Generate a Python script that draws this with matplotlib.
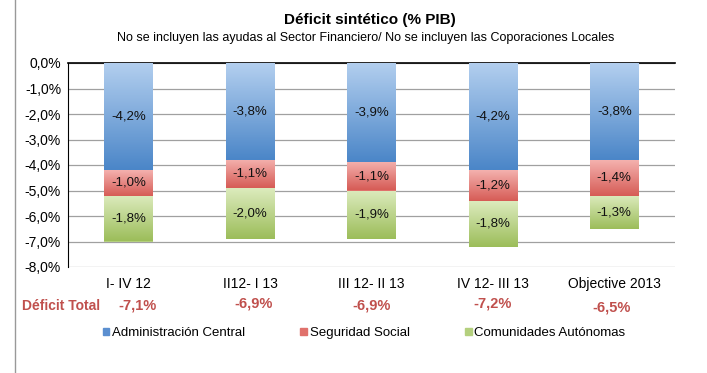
import matplotlib.pyplot as plt
import matplotlib.colors as mcolors
import matplotlib.transforms as mtransforms
from matplotlib.lines import Line2D
import numpy as np

plt.rcParams['font.family'] = ['Liberation Sans', 'DejaVu Sans']

periods = ['I- IV 12', 'II12- I 13', 'III 12- II 13', 'IV 12- III 13', 'Objective 2013']
admin_central = [-4.2, -3.8, -3.9, -4.2, -3.8]
seguridad_social = [-1.0, -1.1, -1.1, -1.2, -1.4]
comunidades = [-1.8, -2.0, -1.9, -1.8, -1.3]
deficit_total = [-7.1, -6.9, -6.9, -7.2, -6.5]
series_names = ['Administración Central', 'Seguridad Social', 'Comunidades Autónomas']

# (top colour, bottom colour) for the gradient fill
grads = [('#b3cfef', '#4b86c8'), ('#f4b1ae', '#d65c56'), ('#dcebbd', '#9cbd5a')]
legend_cols = ['#5b8fd0', '#e0716c', '#b4d07e']

fig = plt.figure(figsize=(7.07, 3.73), dpi=100)
ax = fig.add_axes([68 / 707, 1 - 267 / 373, 607 / 707, 204 / 373])

x = np.arange(len(periods))
bottom = np.zeros(len(periods))
for vals, (c_top, c_bot), name, lc in zip([admin_central, seguridad_social, comunidades],
                                        grads, series_names, legend_cols):
    vals = np.array(vals)
    bars = ax.bar(x, vals, 0.4, bottom=bottom, color=lc, label=name, zorder=3)
    cmap = mcolors.LinearSegmentedColormap.from_list('g', [c_top, c_bot])
    for b, v, b0 in zip(bars, vals, bottom):
        x0 = b.get_x()
        grad = np.linspace(0, 1, 100).reshape(-1, 1)
        im = ax.imshow(grad, cmap=cmap, aspect='auto', zorder=4,
                       extent=[x0, x0 + b.get_width(), b0 + v, b0])
        im.set_clip_path(b)
        ax.text(b.get_x() + b.get_width() / 2, b0 + v / 2,
                ('%.1f%%' % v).replace('.', ','), ha='center', va='center',
                fontsize=9.5, color='#111111', zorder=5)
    bottom = bottom + vals

ax.set_xlim(-0.5, len(periods) - 0.5)
ax.set_ylim(-8, 0)
ax.set_yticks(np.arange(-8, 0.5, 1))
ax.set_yticklabels([('%.1f%%' % v).replace('.', ',') if v != 0 else '0,0%'
                    for v in np.arange(-8, 0.5, 1)], fontsize=10)
ax.set_xticks(x)
ax.set_xticklabels(periods, fontsize=10)
ax.tick_params(length=0, pad=5)
ax.tick_params(axis='x', pad=7)
ax.yaxis.grid(True, color='#a0a0a0', lw=0.9, zorder=0)
ax.set_axisbelow(True)
for s in ['right', 'bottom']:
    ax.spines[s].set_visible(False)
ax.spines['left'].set_color('black')
ax.spines['top'].set_color('black')
ax.spines['top'].set_linewidth(1.2)

# totals row
red = '#c0504d'
fig.text(61 / 707, 1 - 306 / 373, 'Déficit Total', ha='center', va='center',
         fontsize=10, fontweight='bold', color=red)
trans = mtransforms.blended_transform_factory(ax.transData, fig.transFigure)
ypix = [306, 304, 305, 304, 308]
xoff = [0.07, 0.03, 0.0, 0.0, -0.02]
for xi, t, yp, dx in zip(x, deficit_total, ypix, xoff):
    ax.text(xi + dx, 1 - yp / 373, ('%.1f%%' % t).replace('.', ','), transform=trans,
            ha='center', va='center', fontsize=10.5, fontweight='bold',
            color=red, clip_on=False)

fig.text(370 / 707, 1 - 20 / 373, 'Déficit sintético (% PIB)', ha='center', va='center',
         fontsize=11, fontweight='bold')
fig.text(366 / 707, 1 - 38 / 373,
         'No se incluyen las ayudas al Sector Financiero/ No se incluyen las Coporaciones Locales',
         ha='center', va='center', fontsize=9)

handles = [plt.Rectangle((0, 0), 1, 1, color=c) for c in legend_cols]
fig.legend(handles, series_names, loc='center', bbox_to_anchor=(364 / 707, 1 - 333 / 373),
           ncol=3, frameon=False, fontsize=9.5, handlelength=0.5, handleheight=0.5,
           handletextpad=0.2, columnspacing=4.2)

fig.add_artist(Line2D([15 / 707, 15 / 707], [0, 1], color='#999999', lw=1))

fig.savefig('out.png', dpi=100)
